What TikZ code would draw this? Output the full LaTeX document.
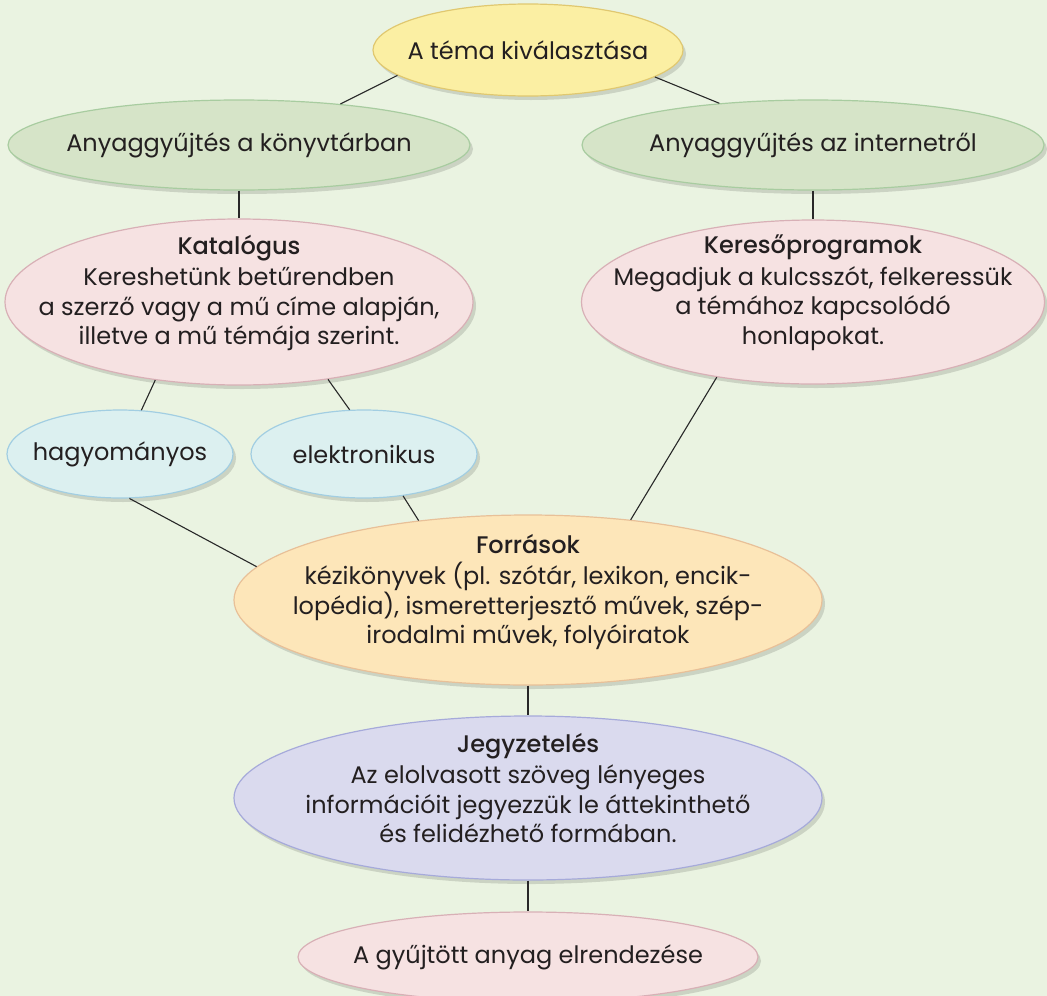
\documentclass[tikz,border=0pt]{standalone}
\usepackage{fontspec}
\setmainfont{Poppins}
\IfFontExistsTF{Poppins Medium}{\newfontfamily\headfont{Poppins Medium}}{\newfontfamily\headfont{Poppins}}
\usetikzlibrary{shapes.geometric,shadows}
\definecolor{bg}{RGB}{234,243,225}
\definecolor{txt}{RGB}{35,31,32}
\definecolor{lin}{RGB}{40,40,40}
\definecolor{yelf}{RGB}{251,239,163}
\definecolor{yeld}{RGB}{224,200,112}
\definecolor{grnf}{RGB}{214,228,200}
\definecolor{grnd}{RGB}{168,204,160}
\definecolor{pnkf}{RGB}{246,226,226}
\definecolor{pnkd}{RGB}{216,176,182}
\definecolor{cyaf}{RGB}{220,240,240}
\definecolor{cyad}{RGB}{162,206,226}
\definecolor{orgf}{RGB}{253,230,185}
\definecolor{orgd}{RGB}{232,192,152}
\definecolor{lavf}{RGB}{218,218,238}
\definecolor{lavd}{RGB}{166,170,218}
\newcommand{\nw}[1]{\makebox[0pt]{#1}}
\tikzset{
  bubble/.style={ellipse, line width=1.2pt, inner sep=0pt, align=center,
    font=\fontsize{24}{29.5}\selectfont, text=txt,
    drop shadow={shadow xshift=3pt, shadow yshift=-4pt, opacity=0.13, fill=black}},
  btext/.style={align=center, inner sep=0pt, font=\fontsize{24}{29.5}\selectfont, text=txt},
  conn/.style={line width=1.1pt, draw=lin},
  yel/.style={bubble, fill=yelf, draw=yeld},
  grn/.style={bubble, fill=grnf, draw=grnd},
  pnk/.style={bubble, fill=pnkf, draw=pnkd},
  cya/.style={bubble, fill=cyaf, draw=cyad},
  org/.style={bubble, fill=orgf, draw=orgd},
  lav/.style={bubble, fill=lavf, draw=lavd}
}
\begin{document}
\begin{tikzpicture}[x=1pt,y=-1pt]
\fill[bg] (0,0) rectangle (1047,996);
\clip (0,0) rectangle (1047,996);
\node[yel, minimum width=310pt, minimum height=92pt] (tema) at (528,50) {\nw{A téma kiválasztása}};
\node[grn, minimum width=462pt, minimum height=90pt] (g1) at (239,145) {\nw{Anyaggyűjtés a könyvtárban}};
\node[grn, minimum width=462pt, minimum height=90pt] (g2) at (813,145) {\nw{Anyaggyűjtés az internetről}};
\node[pnk, minimum width=468pt, minimum height=166pt] (kat) at (239,302) {};
\node[btext] (kattext) at (239,293) {{\headfont Katalógus}\\[2pt]Kereshetünk betűrendben\\a szerző vagy a mű címe alapján,\\illetve a mű témája szerint.};
\node[pnk, minimum width=463pt, minimum height=164pt] (ker) at (813,302) {};
\node[btext] (kertext) at (813,293) {{\headfont Keresőprogramok}\\[2pt]Megadjuk a kulcsszót, felkeressük\\a témához kapcsolódó\\honlapokat.};
\node[cya, minimum width=226pt, minimum height=88pt] (hag) at (120,454) {\nw{hagyományos}};
\node[cya, minimum width=226pt, minimum height=88pt] (ele) at (364,454) {\nw{elektronikus}};
\node[org, minimum width=588pt, minimum height=170pt] (forr) at (528,600) {};
\node[btext] (forrtext) at (528,592) {{\headfont Források}\\[2pt]kézikönyvek (pl. szótár, lexikon, encik-\\lopédia), ismeretterjesztő művek, szép-\\irodalmi művek, folyóiratok};
\node[lav, minimum width=588pt, minimum height=164pt] (jegy) at (528,798) {};
\node[btext] (jegytext) at (528,788) {{\headfont Jegyzetelés}\\[2pt]Az elolvasott szöveg lényeges\\információit jegyezzük le áttekinthető\\és felidézhető formában.};
\node[pnk, minimum width=460pt, minimum height=90pt] (elr) at (528,957) {\nw{A gyűjtött anyag elrendezése}};
\draw[conn] (tema.191.9) -- (g1.22.6);
\draw[conn] (tema.348.1) -- (g2.156.2);
\draw[conn] (g1.south) -- (kat.north);
\draw[conn] (g2.south) -- (ker.north);
\draw[conn] (kat.223.6) -- (hag.64.4);
\draw[conn] (kat.319.1) -- (ele.108);
\draw[conn] (hag.282.8) -- (forr.173.5);
\draw[conn] (ele.313.6) -- (forr.144.2);
\draw[conn] (ker.218.7) -- (forr.38.2);
\draw[conn] (forr.south) -- (jegy.north);
\draw[conn] (jegy.south) -- (elr.north);
\end{tikzpicture}
\end{document}
